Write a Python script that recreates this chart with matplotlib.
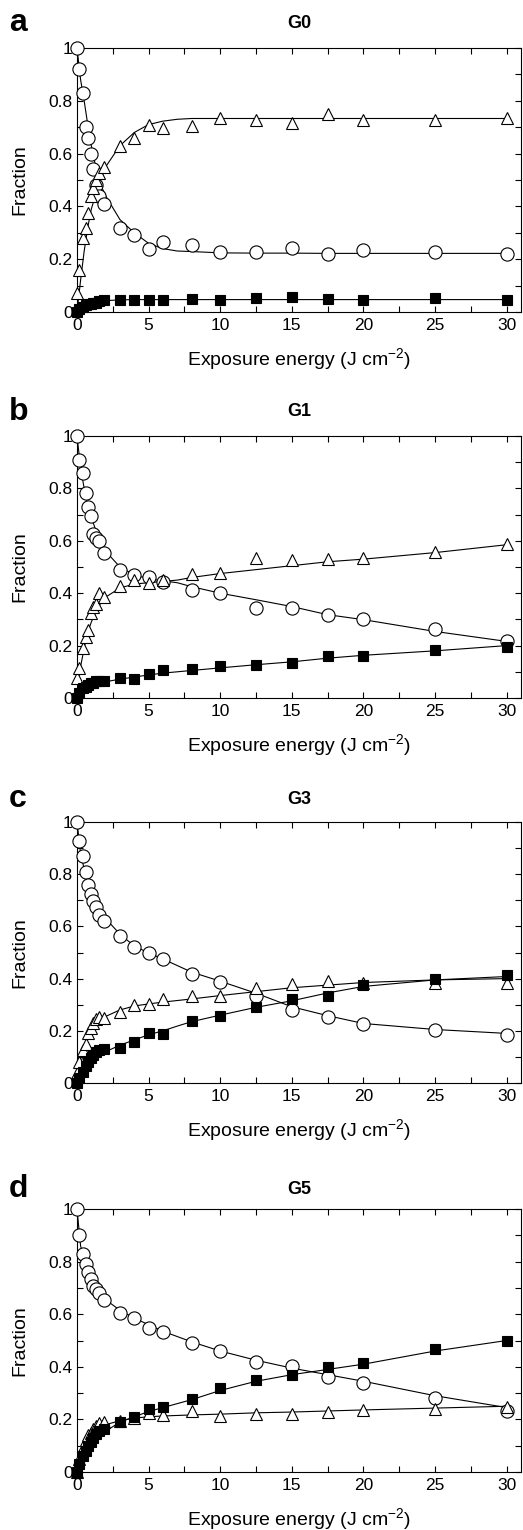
import matplotlib
matplotlib.use("Agg")
import matplotlib.pyplot as plt
from matplotlib.ticker import MultipleLocator, FuncFormatter

plt.rcParams["font.family"] = ["Liberation Sans", "DejaVu Sans"]
plt.rcParams["mathtext.fontset"] = "custom"
plt.rcParams["mathtext.rm"] = "Liberation Sans"
plt.rcParams["mathtext.it"] = "Liberation Sans:italic"

# Exposure energies of the measured points (J cm-2)
x_pts = [0, 0.15, 0.45, 0.65, 0.8, 0.95, 1.15, 1.35, 1.55, 1.9,
         3, 4, 5, 6, 8, 10, 12.5, 15, 17.5, 20, 25, 30]
# Exposure energies where the fitted curves are sampled
x_fit = [0, 0.25, 0.5, 0.75, 1, 1.5, 2, 3, 4, 5, 6, 7, 8, 10,
         12.5, 15, 17.5, 20, 25, 30]

panel_letters = ["a", "b", "c", "d"]
panel_titles = ["G0", "G1", "G3", "G5"]

# G0
g0_circle = [1.0, 0.92, 0.83, 0.70, 0.66, 0.60, 0.54, 0.48, 0.44, 0.41,
             0.32, 0.29, 0.24, 0.265, 0.255, 0.227, 0.227, 0.242, 0.221, 0.236, 0.227, 0.221]
g0_triangle = [0.073, 0.16, 0.28, 0.32, 0.375, 0.44, 0.47, 0.50, 0.525, 0.55,
               0.63, 0.66, 0.707, 0.696, 0.704, 0.736, 0.728, 0.716, 0.75, 0.728, 0.728, 0.736]
g0_square = [0.0, 0.01, 0.02, 0.025, 0.03, 0.03, 0.035, 0.035, 0.04, 0.045,
             0.044, 0.044, 0.044, 0.044, 0.048, 0.044, 0.054, 0.057, 0.048, 0.047, 0.054, 0.047]
g0_circle_fit = [1.0, 0.88, 0.80, 0.71, 0.63, 0.50, 0.44, 0.35, 0.30, 0.26, 0.24, 0.231,
                 0.229, 0.224, 0.223, 0.223, 0.222, 0.222, 0.222, 0.222]
g0_triangle_fit = [0.0, 0.12, 0.23, 0.32, 0.39, 0.48, 0.55, 0.63, 0.68, 0.71, 0.723, 0.73,
                   0.733, 0.733, 0.733, 0.733, 0.733, 0.733, 0.733, 0.733]
g0_square_fit = [0.0, 0.012, 0.022, 0.028, 0.032, 0.038, 0.043, 0.046, 0.047, 0.047, 0.047,
                 0.047, 0.047, 0.047, 0.047, 0.047, 0.047, 0.047, 0.047, 0.047]

# G1
g1_circle = [1.0, 0.908, 0.86, 0.784, 0.728, 0.695, 0.626, 0.61, 0.60, 0.555,
             0.489, 0.47, 0.463, 0.444, 0.413, 0.40, 0.343, 0.343, 0.318, 0.301, 0.263, 0.219]
g1_triangle = [0.075, 0.113, 0.19, 0.234, 0.26, 0.323, 0.348, 0.36, 0.40, 0.385,
               0.428, 0.45, 0.44, 0.45, 0.474, 0.479, 0.534, 0.525, 0.53, 0.536, 0.559, 0.588]
g1_square = [0.0, 0.018, 0.037, 0.043, 0.05, 0.056, 0.059, 0.063, 0.063, 0.065,
             0.075, 0.073, 0.09, 0.106, 0.11, 0.121, 0.127, 0.133, 0.159, 0.161, 0.182, 0.194]
g1_circle_fit = [1.0, 0.88, 0.80, 0.74, 0.69, 0.61, 0.56, 0.50, 0.47, 0.455, 0.447, 0.44,
                 0.425, 0.40, 0.375, 0.349, 0.318, 0.299, 0.254, 0.216]
g1_triangle_fit = [0.03, 0.12, 0.19, 0.25, 0.29, 0.35, 0.385, 0.42, 0.435, 0.44, 0.445, 0.45,
                   0.46, 0.475, 0.49, 0.505, 0.52, 0.53, 0.555, 0.585]
g1_square_fit = [0.0, 0.02, 0.033, 0.042, 0.048, 0.056, 0.062, 0.072, 0.08, 0.088, 0.095, 0.1,
                 0.105, 0.115, 0.127, 0.138, 0.152, 0.163, 0.18, 0.2]

# G3
g3_circle = [1.0, 0.927, 0.871, 0.807, 0.759, 0.723, 0.698, 0.676, 0.645, 0.621,
             0.564, 0.522, 0.497, 0.474, 0.418, 0.388, 0.332, 0.281, 0.254, 0.226, 0.202, 0.185]
g3_triangle = [0.04, 0.08, 0.126, 0.15, 0.19, 0.21, 0.23, 0.245, 0.254, 0.248,
               0.273, 0.299, 0.303, 0.322, 0.333, 0.333, 0.363, 0.379, 0.392, 0.385, 0.385, 0.385]
g3_square = [0.0, 0.018, 0.043, 0.066, 0.082, 0.097, 0.107, 0.117, 0.126, 0.13,
             0.134, 0.156, 0.191, 0.189, 0.236, 0.258, 0.292, 0.32, 0.333, 0.375, 0.398, 0.415]
g3_circle_fit = [1.0, 0.88, 0.82, 0.77, 0.73, 0.67, 0.63, 0.57, 0.525, 0.498, 0.475, 0.45,
                 0.425, 0.39, 0.344, 0.292, 0.258, 0.228, 0.205, 0.19]
g3_triangle_fit = [0.0, 0.07, 0.125, 0.17, 0.2, 0.235, 0.255, 0.28, 0.295, 0.303, 0.31, 0.316,
                   0.322, 0.335, 0.35, 0.365, 0.375, 0.385, 0.395, 0.4]
g3_square_fit = [0.0, 0.028, 0.05, 0.07, 0.085, 0.105, 0.12, 0.145, 0.165, 0.185, 0.2, 0.218,
                 0.235, 0.26, 0.29, 0.315, 0.345, 0.37, 0.395, 0.408]

# G5
g5_circle = [1.0, 0.901, 0.829, 0.791, 0.762, 0.733, 0.707, 0.695, 0.682, 0.654,
             0.603, 0.584, 0.549, 0.533, 0.489, 0.461, 0.419, 0.403, 0.36, 0.339, 0.28, 0.233]
g5_triangle = [0.0, 0.05, 0.09, 0.12, 0.14, 0.15, 0.165, 0.175, 0.185, 0.19,
               0.195, 0.205, 0.225, 0.216, 0.233, 0.212, 0.222, 0.222, 0.229, 0.235, 0.238, 0.248]
g5_square = [0.0, 0.03, 0.06, 0.08, 0.1, 0.115, 0.13, 0.145, 0.155, 0.165,
             0.191, 0.208, 0.238, 0.246, 0.276, 0.318, 0.349, 0.368, 0.40, 0.413, 0.466, 0.498]
g5_circle_fit = [1.0, 0.86, 0.81, 0.77, 0.74, 0.69, 0.655, 0.615, 0.585, 0.56, 0.535, 0.515,
                 0.495, 0.46, 0.425, 0.395, 0.37, 0.345, 0.29, 0.245]
g5_triangle_fit = [0.0, 0.06, 0.1, 0.13, 0.15, 0.17, 0.18, 0.195, 0.205, 0.21, 0.213, 0.215,
                   0.217, 0.22, 0.225, 0.228, 0.232, 0.236, 0.243, 0.25]
g5_square_fit = [0.0, 0.035, 0.06, 0.085, 0.105, 0.135, 0.155, 0.19, 0.21, 0.23, 0.245, 0.26,
                 0.275, 0.31, 0.345, 0.37, 0.39, 0.41, 0.46, 0.5]

panels = [
    (g0_circle, g0_triangle, g0_square, g0_circle_fit, g0_triangle_fit, g0_square_fit),
    (g1_circle, g1_triangle, g1_square, g1_circle_fit, g1_triangle_fit, g1_square_fit),
    (g3_circle, g3_triangle, g3_square, g3_circle_fit, g3_triangle_fit, g3_square_fit),
    (g5_circle, g5_triangle, g5_square, g5_circle_fit, g5_triangle_fit, g5_square_fit),
]

W, H = 523, 1530
# axes frames in pixels: (top, bottom); left/right shared
ax_left, ax_right = 77, 521
ax_rows = [(48, 312), (436, 698), (822, 1083), (1209, 1472)]
title_y = [23, 412, 799, 1189]


def draw_panel(ax, data):
    circ, tri, sq, circ_fit, tri_fit, sq_fit = data
    for fit in (circ_fit, tri_fit, sq_fit):
        ax.plot(x_fit, fit, color="black", lw=0.8, zorder=2)
    # markers hang over the frame at x=0, so no clipping
    ax.plot(x_pts, circ, "o", ms=9.5, mfc="white", mec="black", mew=0.8, zorder=3, clip_on=False)
    ax.plot(x_pts, tri, "^", ms=8.5, mfc="white", mec="black", mew=0.8, zorder=4, clip_on=False)
    ax.plot(x_pts, sq, "s", ms=7.5, mfc="black", mec="black", mew=0.8, zorder=5, clip_on=False)

    ax.set_xlim(0, 31)
    ax.set_ylim(0, 1)
    ax.xaxis.set_major_locator(MultipleLocator(5))
    ax.xaxis.set_minor_locator(MultipleLocator(2.5))
    ax.yaxis.set_major_locator(MultipleLocator(0.2))
    ax.yaxis.set_minor_locator(MultipleLocator(0.1))
    ax.yaxis.set_major_formatter(FuncFormatter(lambda v, p: f"{v:g}"))
    ax.tick_params(which="both", direction="in", top=True, right=True,
                   length=4, width=0.8, labelsize=12.5)
    ax.tick_params(axis="x", pad=4)
    ax.tick_params(axis="y", pad=3)
    for sp in ax.spines.values():
        sp.set_linewidth(0.8)
    ax.set_xlabel("Exposure energy (J cm$^{\\mathregular{-2}}$)", fontsize=14)
    ax.set_ylabel("Fraction", fontsize=14)
    ax.xaxis.set_label_coords(0.5, -0.13)
    ax.yaxis.set_label_coords(-0.11, 0.5)


fig = plt.figure(figsize=(W / 100, H / 100), dpi=100)
for i, data in enumerate(panels):
    top, bottom = ax_rows[i]
    ax = fig.add_axes([ax_left / W, 1 - bottom / H, (ax_right - ax_left) / W, (bottom - top) / H])
    draw_panel(ax, data)
    fig.text(9 / W, 1 - title_y[i] / H, panel_letters[i], fontsize=23, fontweight="bold",
             ha="left", va="center")
    fig.text((ax_left + ax_right) / 2 / W, 1 - title_y[i] / H, panel_titles[i], fontsize=13,
             fontweight="bold", ha="center", va="center")

fig.savefig("out.png", dpi=100)
